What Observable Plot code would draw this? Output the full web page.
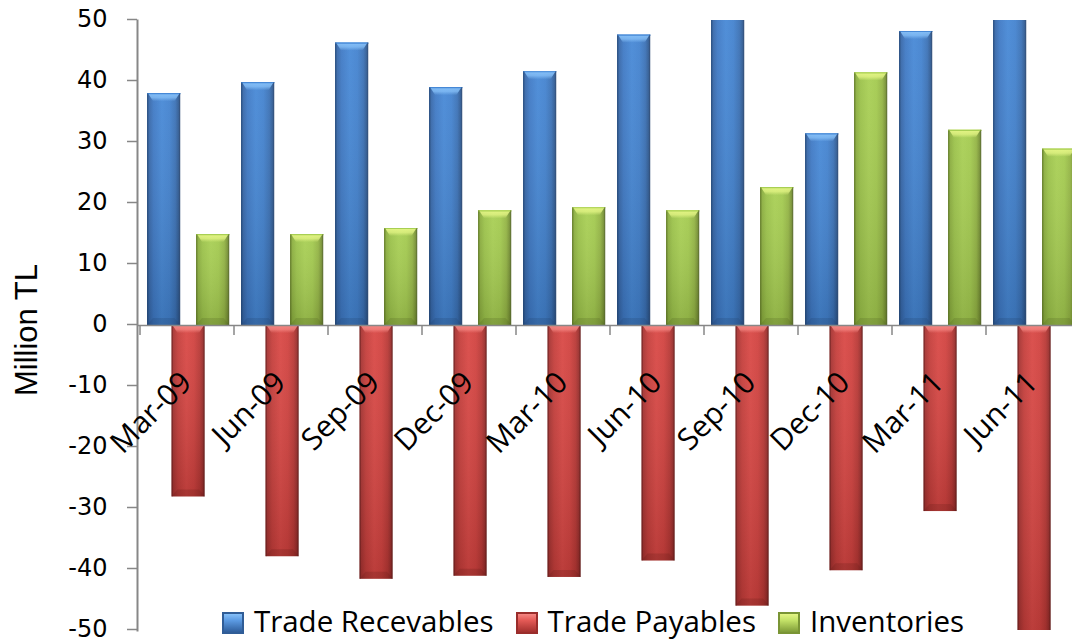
<!DOCTYPE html>
<html>
<head>
<meta charset="utf-8">
<script src="https://cdn.jsdelivr.net/npm/d3@7"></script>
<script src="https://cdn.jsdelivr.net/npm/@observablehq/plot@0.6"></script>
<style>
  html, body { margin: 0; padding: 0; background: #fff; }
  #wrap { position: relative; width: 1072px; height: 642px; overflow: hidden; background: #fff; }
  #chart svg { display: block; }
  #ytitle {
    position: absolute; left: 27px; top: 330px;
    transform: translate(-50%, -50%) rotate(-90deg);
    font-family: "Liberation Sans", Arial, sans-serif; font-size: 31px; color: #000;
    white-space: nowrap;
  }
  #legend {
    position: absolute; left: 0; width: 1072px; top: 601px; height: 40px;
    display: flex; justify-content: center; align-items: center; gap: 22px;
    padding-left: 114px; box-sizing: border-box;
    font-family: "Open Sans", sans-serif; font-size: 29.5px; line-height: 40px; color: #000;
  }
  #legend .item { display: flex; align-items: center; gap: 10px; white-space: nowrap; }
  #legend .sw { width: 22px; height: 22px; display: inline-block; box-sizing: border-box; margin-top: 3px; }
</style>
</head>
<body>
<div id="wrap">
  <div id="chart"></div>
  <div id="ytitle">Million TL</div>
  <div id="legend"></div>
</div>
<script>
// Quarterly working-capital items, million TL
const quarters = ["Mar-09", "Jun-09", "Sep-09", "Dec-09", "Mar-10", "Jun-10", "Sep-10", "Dec-10", "Mar-11", "Jun-11"];
const receivables = [38.0, 39.8, 46.3, 39.0, 41.6, 47.6, 52.0, 31.4, 48.2, 51.5];
const payables = [-28.1, -37.9, -41.6, -41.1, -41.3, -38.6, -46.0, -40.2, -30.5, -50.8];
const inventories = [14.9, 14.9, 15.9, 18.8, 19.3, 18.8, 22.6, 41.4, 32.0, 28.9];
const seriesNames = ["Trade Recevables", "Trade Payables", "Inventories"];
const yTicks = [-50, -40, -30, -20, -10, 0, 10, 20, 30, 40, 50];

const seriesValues = [receivables, payables, inventories];

// Shading for each series: side-to-side cylinder gradient, cap highlight, dark rim
const palettes = [
  {id: "blue", stops: ["#2b568e", "#3566a8", "#3e79c5", "#4688d6", "#4282cf", "#3a71b6", "#305d97", "#294d7e"],
   cap: "#86c0f8", rim: "#1f3f6b", swatch: ["#5c9be3", "#2f5e9c"]},
  {id: "red", stops: ["#8a2927", "#a93331", "#c53d3a", "#d94744", "#d1413e", "#b83734", "#9a2d2b", "#7f2523"],
   cap: "#f58783", rim: "#5e1a19", swatch: ["#e45a56", "#a3302e"]},
  {id: "green", stops: ["#779634", "#8aad3d", "#9bc249", "#a8cf53", "#a3ca4e", "#93b443", "#7a9535", "#61782a"],
   cap: "#e4f585", rim: "#4c5e20", swatch: ["#c4e268", "#7f9c38"]}
];
const stopOffsets = [0, 0.06, 0.2, 0.45, 0.68, 0.86, 0.95, 1];

const rows = [];
seriesValues.forEach((vals, s) => vals.forEach((v, i) => rows.push({quarter: quarters[i], series: s, value: v})));

const W = 1072, H = 642;
const margin = {left: 137, right: -11, top: 20, bottom: 12};
const barWidth = 33.5, barStep = 24.5, clusterOffset = 7;
const bandWidth = (W - margin.left - margin.right) / quarters.length;
const insetL = s => clusterOffset + s * barStep;
const insetR = s => bandWidth - insetL(s) - barWidth;

// gradient definitions used by the bars
function gradientDefs() {
  const defs = d3.create("svg:defs");
  palettes.forEach(p => {
    const g = defs.append("linearGradient").attr("id", "body-" + p.id)
      .attr("x1", 0).attr("x2", 1).attr("y1", 0).attr("y2", 0);
    p.stops.forEach((c, k) => g.append("stop").attr("offset", stopOffsets[k]).attr("stop-color", c));
    const cg = defs.append("linearGradient").attr("id", "cap-" + p.id)
      .attr("x1", 0).attr("x2", 0).attr("y1", 0).attr("y2", 1);
    cg.append("stop").attr("offset", 0).attr("stop-color", p.cap).attr("stop-opacity", 1);
    cg.append("stop").attr("offset", 0.55).attr("stop-color", p.cap).attr("stop-opacity", 0.75);
    cg.append("stop").attr("offset", 1).attr("stop-color", p.cap).attr("stop-opacity", 0);
  });
  const shade = defs.append("linearGradient").attr("id", "shade")
    .attr("x1", 0).attr("x2", 0).attr("y1", 0).attr("y2", 1);
  shade.append("stop").attr("offset", 0).attr("stop-color", "#fff").attr("stop-opacity", 0.06);
  shade.append("stop").attr("offset", 1).attr("stop-color", "#000").attr("stop-opacity", 0.14);
  return defs.node();
}

// bevel highlights at the top of each bar and a dark rim at its far end
function bevels(index, scales, values, dims) {
  const g = d3.create("svg:g");
  const top = dims.marginTop, bottom = dims.height - dims.marginBottom;
  seriesValues.forEach((vals, s) => {
    const p = palettes[s];
    vals.forEach((v, i) => {
      const x0 = scales.x(quarters[i]) + insetL(s);
      const x1 = x0 + barWidth;
      if (x0 > W) return;
      const yTop = scales.y(Math.max(v, 0));
      const yBot = scales.y(Math.min(v, 0));
      if (yTop >= top) {
        g.append("path")
          .attr("d", `M${x0 + 1},${yTop}L${x1 - 1},${yTop}L${x1 - 6},${yTop + 8}L${x0 + 6},${yTop + 8}Z`)
          .attr("fill", `url(#cap-${p.id})`);
        g.append("line").attr("x1", x0).attr("x2", x1).attr("y1", yTop + 0.5).attr("y2", yTop + 0.5)
          .attr("stroke", p.stops[3]).attr("stroke-width", 1.2);
      }
      if (yBot <= bottom) {
        g.append("path")
          .attr("d", `M${x0},${yBot}L${x1},${yBot}L${x1 - 6},${yBot - 7}L${x0 + 6},${yBot - 7}Z`)
          .attr("fill", p.rim).attr("fill-opacity", 0.22);
      }
      // side rims
      const ya = Math.max(yTop, top), yb = Math.min(yBot, bottom);
      g.append("rect").attr("x", x0).attr("width", 1.5).attr("y", ya).attr("height", Math.max(0, yb - ya))
        .attr("fill", p.rim).attr("fill-opacity", 0.35);
      g.append("rect").attr("x", x1 - 1.5).attr("width", 1.5).attr("y", ya).attr("height", Math.max(0, yb - ya))
        .attr("fill", p.rim).attr("fill-opacity", 0.45);
    });
  });
  return g.node();
}

// small division ticks under the zero line between quarters
function categoryTicks(index, scales, values, dims) {
  const g = d3.create("svg:g").attr("stroke", "#878787").attr("stroke-width", 1.5);
  const y0 = scales.y(0);
  quarters.forEach(q => {
    const x = scales.x(q);
    g.append("line").attr("x1", x).attr("x2", x).attr("y1", y0).attr("y2", y0 + 10);
  });
  return g.node();
}

const barMarks = [];
palettes.forEach((p, s) => {
  const data = rows.filter(d => d.series === s);
  barMarks.push(Plot.barY(data, {x: "quarter", y: "value", fill: `url(#body-${p.id})`,
    insetLeft: insetL(s), insetRight: insetR(s), clip: true}));
  barMarks.push(Plot.barY(data, {x: "quarter", y: "value", fill: "url(#shade)",
    insetLeft: insetL(s), insetRight: insetR(s), clip: true}));
});

const chart = Plot.plot({
  width: W,
  height: H,
  marginLeft: margin.left,
  marginRight: margin.right,
  marginTop: margin.top,
  marginBottom: margin.bottom,
  style: {fontFamily: "'Open Sans', sans-serif", background: "transparent", color: "#000"},
  x: {type: "band", domain: quarters, padding: 0, axis: null},
  y: {domain: [-50, 50], axis: null},
  marks: [
    gradientDefs,
    ...barMarks,
    bevels,
    Plot.ruleY([0], {stroke: "#878787", strokeWidth: 1.5}),
    categoryTicks,
    Plot.frame({anchor: "left", stroke: "#878787", strokeWidth: 2}),
    Plot.axisY({ticks: yTicks, tickSize: 10, tickPadding: 20, fontSize: 24, fontFamily: "'DejaVu Sans', sans-serif",
      stroke: "#878787", strokeWidth: 1.5, tickFormat: d => String(d), label: null, dy: -1}),
    Plot.text(quarters, {x: d => d, y: () => 0, text: d => d, rotate: -45, textAnchor: "end",
      fontSize: 30, dx: -1, dy: 52, fill: "#000"})
  ]
});
document.getElementById("chart").appendChild(chart);

// legend
const legend = d3.select("#legend");
seriesNames.forEach((name, s) => {
  const p = palettes[s];
  const item = legend.append("span").attr("class", "item");
  item.append("i").attr("class", "sw")
    .style("background", `linear-gradient(180deg, ${p.cap} 0%, ${p.swatch[0]} 35%, ${p.swatch[1]} 100%)`)
    .style("border", `2px solid ${p.stops[6]}`);
  item.append("span").text(name);
});
</script>
</body>
</html>
